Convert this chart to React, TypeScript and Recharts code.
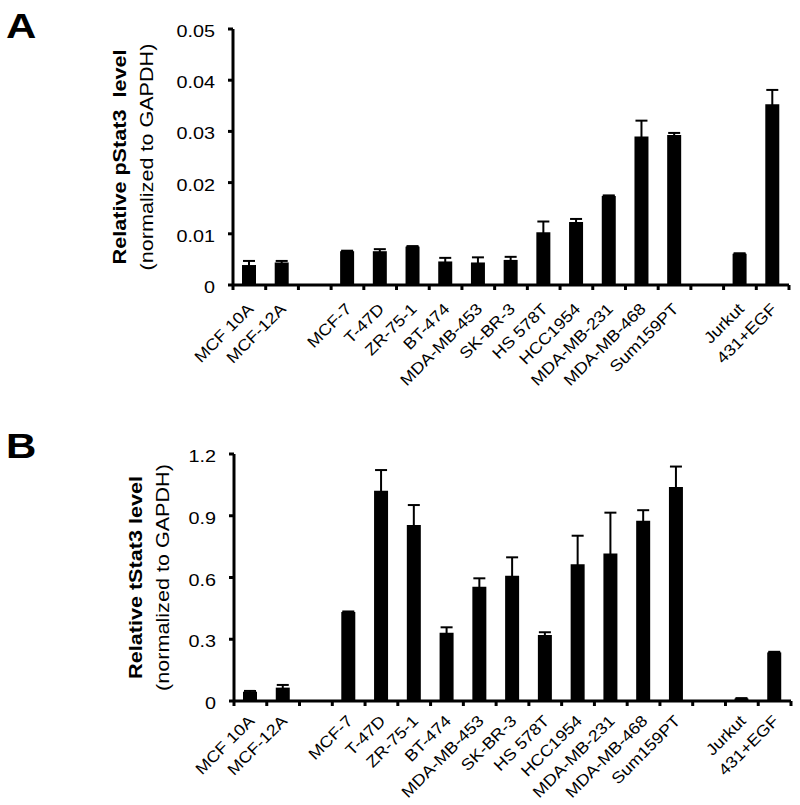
import { BarChart, Bar, XAxis, YAxis, ErrorBar, Label } from 'recharts'

const FONT = '"Liberation Sans", Arial, sans-serif'
// the figure's type is a little wider than Arial
const STRETCH = 1.2

const cellLines = [
  'MCF 10A', 'MCF-12A', '', 'MCF-7', 'T-47D', 'ZR-75-1', 'BT-474', 'MDA-MB-453', 'SK-BR-3',
  'HS 578T', 'HCC1954', 'MDA-MB-231', 'MDA-MB-468', 'Sum159PT', '', 'Jurkut', '431+EGF',
]

// panel A: phospho-Stat3
const pStat3 = [0.0039, 0.0044, null, 0.0066, 0.0066, 0.0075, 0.0046, 0.0044, 0.0049, 0.0103, 0.0123, 0.0174, 0.029, 0.0293, null, 0.0061, 0.0353]
const pStat3Err = [0.0008, 0.0003, 0, 0.0001, 0.0004, 0.0001, 0.0007, 0.001, 0.0006, 0.0021, 0.0006, 0.0001, 0.0031, 0.0004, 0, 0.0001, 0.0028]
const pTicks = [0, 0.01, 0.02, 0.03, 0.04, 0.05]

// panel B: total Stat3
const tStat3 = [0.045, 0.065, null, 0.432, 1.022, 0.855, 0.332, 0.555, 0.609, 0.321, 0.664, 0.716, 0.876, 1.04, null, 0.012, 0.236]
const tStat3Err = [0.004, 0.013, 0, 0.003, 0.1, 0.097, 0.026, 0.041, 0.089, 0.013, 0.139, 0.199, 0.051, 0.099, 0, 0.002, 0.003]
const tTicks = [0, 0.3, 0.6, 0.9, 1.2]

interface PanelProps {
  values: (number | null)[]
  errors: number[]
  ticks: number[]
  decimals: number
  title: string
  height: number
  margin: { top: number; right: number; bottom: number; left: number }
  labelX: [number, number]
  tickDx: number
  tickDy: number
}

// category label + tick marks on the band edges (Excel style)
const XLabel = (props: any) => {
  const { x, y, payload, dx, dy, last } = props
  const half = payload.offset ?? 0
  const ax = x + dx
  const ay = y + dy
  return (
    <g>
      <line x1={x - half} x2={x - half} y1={y} y2={y + 5} stroke="#000" strokeWidth={3} />
      {payload.index === last && <line x1={x + half} x2={x + half} y1={y} y2={y + 5} stroke="#000" strokeWidth={3} />}
      <text
        transform={`translate(${ax} ${ay}) rotate(-45) scale(1.12 1)`}
        textAnchor="end"
        fontSize={16}
        fontFamily={FONT}
        fill="#000"
      >
        {payload.value}
      </text>
    </g>
  )
}

const YLabel = (props: any) => {
  const { x, y, payload, decimals } = props
  const v = payload.value as number
  return (
    <text
      transform={`translate(${x} ${y + 8}) scale(${STRETCH} 1)`}
      textAnchor="end"
      fontSize={16.5}
      fontFamily={FONT}
      fill="#000"
    >
      {v === 0 ? '0' : v.toFixed(decimals)}
    </text>
  )
}

function Panel({ values, errors, ticks, decimals, title, height, margin, labelX, tickDx, tickDy }: PanelProps) {
  const data = cellLines.map((name, i) => ({ name, value: values[i], err: errors[i] }))

  const AxisTitle = (p: any) => {
    const cy = p.viewBox.y + p.viewBox.height / 2
    return (
      <g fontFamily={FONT} fill="#000">
        <text transform={`translate(${labelX[0]} ${cy}) rotate(-90) scale(${STRETCH} 1)`} textAnchor="middle" fontSize={18} fontWeight="bold">
          {title}
        </text>
        <text transform={`translate(${labelX[1]} ${cy}) rotate(-90) scale(${STRETCH} 1)`} textAnchor="middle" fontSize={18}>
          (normalized to GAPDH)
        </text>
      </g>
    )
  }

  return (
    <BarChart width={800} height={height} data={data} margin={margin} barSize={14}>
      <XAxis
        dataKey="name"
        height={100}
        axisLine={{ stroke: '#000', strokeWidth: 3 }}
        tickLine={false}
        tickSize={0}
        tickMargin={0}
        interval={0}
        tick={(p: any) => <XLabel {...p} dx={tickDx} dy={tickDy} last={cellLines.length - 1} />}
      />
      <YAxis
        width={60}
        domain={[ticks[0], ticks[ticks.length - 1]]}
        ticks={ticks}
        interval={0}
        axisLine={{ stroke: '#000', strokeWidth: 3 }}
        tickLine={{ stroke: '#000', strokeWidth: 3 }}
        tickSize={5}
        tickMargin={13}
        tick={(p: any) => <YLabel {...p} decimals={decimals} />}
      >
        <Label content={<AxisTitle />} />
      </YAxis>
      <Bar dataKey="value" fill="#000" isAnimationActive={false}>
        <ErrorBar dataKey="err" direction="y" width={6} stroke="#000" strokeWidth={2} />
      </Bar>
    </BarChart>
  )
}

const letterStyle = {
  position: 'absolute' as const,
  left: 6,
  fontFamily: FONT,
  fontWeight: 'bold' as const,
  fontSize: 35,
  lineHeight: 1,
  transform: `scaleX(${STRETCH})`,
  transformOrigin: 'left top',
}

export default function App() {
  return (
    <div style={{ position: 'absolute', left: 0, top: 0, width: 800, height: 805, background: '#fff' }}>
      <div style={{ ...letterStyle, top: 8 }}>A</div>
      <div style={{ ...letterStyle, top: 428 }}>B</div>
      <div style={{ position: 'absolute', left: 0, top: 0 }}>
        <Panel
          values={pStat3}
          errors={pStat3Err}
          ticks={pTicks}
          decimals={2}
          title={'Relative pStat3\u00a0 level'}
          height={400}
          margin={{ top: 29, right: 11, bottom: 15, left: 173 }}
          labelX={[126, 153]}
          tickDx={5}
          tickDy={25}
        />
      </div>
      <div style={{ position: 'absolute', left: 0, top: 420 }}>
        <Panel
          values={tStat3}
          errors={tStat3Err}
          ticks={tTicks}
          decimals={1}
          title="Relative tStat3 level"
          height={385}
          margin={{ top: 34, right: 9, bottom: 4, left: 174 }}
          labelX={[142, 169]}
          tickDx={5}
          tickDy={21}
        />
      </div>
    </div>
  )
}
